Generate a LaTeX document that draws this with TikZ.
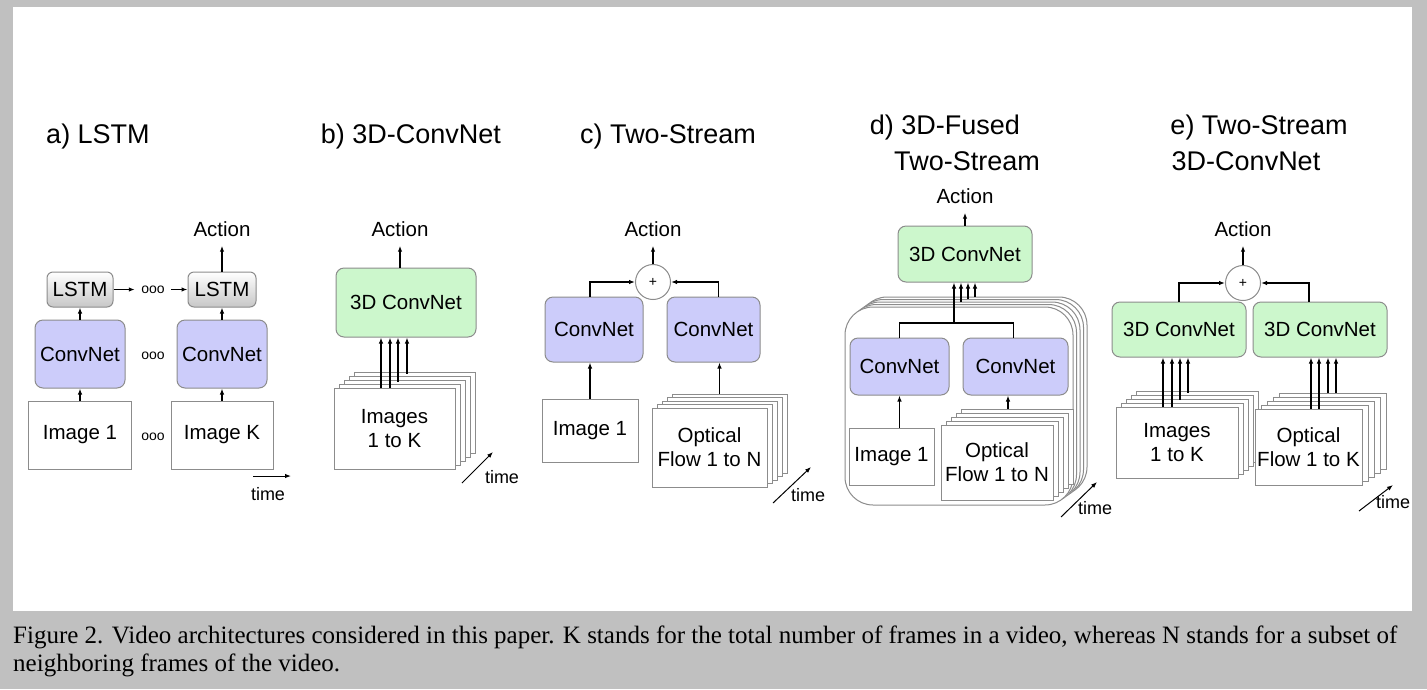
\documentclass[tikz,border=0pt]{standalone}
\usepackage{fontspec}
\setmainfont{Liberation Serif}
\newfontfamily\helv{Liberation Sans}
\usetikzlibrary{arrows.meta}

\definecolor{fondo}{RGB}{192,192,192}
\definecolor{azulcn}{RGB}{204,204,250}
\definecolor{verdecn}{RGB}{204,247,204}
\definecolor{borde}{RGB}{140,140,140}

\tikzset{
  caja/.style={draw=borde, line width=1pt, fill=white, inner sep=0pt, align=center,
    font=\helv\fontsize{20.5}{24}\selectfont},
  cnet/.style={caja, fill=azulcn, rounded corners=8pt},
  cnetres/.style={caja, fill=verdecn, rounded corners=8pt},
  lstm/.style={caja, top color=white, bottom color=black!22, rounded corners=6pt},
  suma/.style={circle, draw=borde, line width=1pt, fill=white, minimum size=35pt,
    inner sep=0pt, font=\helv\fontsize{14}{14}\selectfont},
  accion/.style={inner xsep=0pt, inner ysep=9pt, font=\helv\fontsize{20.5}{24}\selectfont},
  titulo/.style={inner sep=0pt, font=\helv\fontsize{27}{32}\selectfont},
  puntos/.style={inner sep=0pt, minimum width=36pt, font=\helv\fontsize{14}{14}\selectfont},
  tiempo/.style={inner sep=0pt, font=\helv\fontsize{18}{18}\selectfont},
  flecha/.style={line width=1.3pt, -{Latex[length=6pt,width=4.5pt]}},
  linea/.style={line width=1.3pt},
  hoja/.style={draw=borde, line width=1pt, fill=white},
}

\begin{document}
\begin{tikzpicture}[x=1pt, y=-1pt]
  % Fondo y panel blanco
  \fill[fondo] (0,0) rectangle (1427,689);
  \fill[white] (13,7) rectangle (1412,611);

  % Titulos
  \node[titulo] (titA) at (98,137) {a) LSTM};
  \node[titulo] (titB) at (411,137) {b) 3D-ConvNet};
  \node[titulo] (titC) at (668,137) {c) Two-Stream};
  \node[titulo] (titDa) at (945,128) {d) 3D-Fused};
  \node[titulo] (titDb) at (967,161) {Two-Stream};
  \node[titulo] (titEa) at (1259,128) {e) Two-Stream};
  \node[titulo] (titEb) at (1246,161) {3D-ConvNet};

  % a) LSTM
  \node[lstm, minimum width=66pt, minimum height=35pt] (lstmA1) at (80,289.5) {LSTM};
  \node[lstm, minimum width=68pt, minimum height=35pt] (lstmA2) at (222,289.5) {LSTM};
  \node[cnet, minimum width=90pt, minimum height=68pt] (cnA1) at (80,354) {ConvNet};
  \node[cnet, minimum width=90pt, minimum height=68pt] (cnA2) at (222,354) {ConvNet};
  \node[caja, minimum width=103pt, minimum height=68pt] (imgA1) at (80,435) {Image 1};
  \node[caja, minimum width=102pt, minimum height=68pt] (imgAK) at (222,435) {Image K};
  \node[puntos] (ptsA1) at (153,289.5) {ooo};
  \node[puntos] (ptsA2) at (153,356) {ooo};
  \node[puntos] (ptsA3) at (153,437) {ooo};
  \node[accion] (actA) at (222,229) {Action};
  \draw[flecha] (imgA1) -- (cnA1);
  \draw[flecha] (imgAK) -- (cnA2);
  \draw[flecha] (cnA1) -- (lstmA1);
  \draw[flecha] (cnA2) -- (lstmA2);
  \draw[flecha] (lstmA1) -- (ptsA1);
  \draw[flecha] (ptsA1) -- (lstmA2);
  \draw[flecha] (lstmA2) -- (actA);
  % tiempo
  \coordinate (tA0) at (253,476);
  \coordinate (tA1) at (291,476);
  \draw[flecha, line width=1pt] (tA0) -- (tA1);
  \node[tiempo] (tmA) at (268,494) {time};

  % b) 3D-ConvNet
  \foreach \k in {4,3,2,1}
    \draw[hoja] (334+5*\k, 388-4*\k) rectangle +(121,81);
  \node[caja, minimum width=121pt, minimum height=81pt] (imgsB) at (394.5,428.5) {Images\\1 to K};
  \node[cnetres, minimum width=140pt, minimum height=69pt] (c3dB) at (406,302.5) {3D ConvNet};
  \node[accion] (actB) at (400,229) {Action};
  \foreach \dx/\dy in {-13.5/0, -4.5/0, 3.5/6, 12.5/14}
    \draw[flecha] ([xshift=\dx pt, yshift=\dy pt]imgsB.north) -- ([xshift=\dx pt]imgsB.north |- c3dB.south);
  \draw[flecha] (actB.south |- c3dB.north) -- (actB.south);
  \coordinate (tB0) at (462,483);
  \coordinate (tB1) at (493,452);
  \draw[flecha, line width=1pt] (tB0) -- (tB1);
  \node[tiempo] (tmB) at (502,477) {time};

  % c) Two-Stream
  \node[caja, minimum width=96pt, minimum height=63pt] (imgC1) at (590,430.5) {Image 1};
  \foreach \k in {4,3,2,1}
    \draw[hoja] (652+5*\k, 408-3.5*\k) rectangle +(115,79);
  \node[caja, minimum width=115pt, minimum height=79pt] (flowC) at (709.5,447.5) {Optical\\Flow 1 to N};
  \node[cnet, minimum width=98pt, minimum height=65pt] (cnC1) at (594,329.5) {ConvNet};
  \node[cnet, minimum width=93pt, minimum height=65pt] (cnC2) at (713.5,329.5) {ConvNet};
  \node[suma] (sumC) at (653,282) {+};
  \node[accion] (actC) at (653,229) {Action};
  \draw[flecha] (imgC1.north) -- (imgC1.north |- cnC1.south);
  \draw[flecha] ([xshift=10pt, yshift=14pt]flowC.north) -- ([xshift=10pt]flowC.north |- cnC2.south);
  \draw[flecha] ([xshift=-4pt]cnC1.north) |- (sumC.west);
  \draw[flecha] ([xshift=5pt]cnC2.north) |- (sumC.east);
  \draw[flecha] (sumC) -- (actC);
  \coordinate (tC0) at (773,503);
  \coordinate (tC1) at (811,467);
  \draw[flecha, line width=1pt] (tC0) -- (tC1);
  \node[tiempo] (tmC) at (808,495) {time};

  % d) 3D-Fused Two-Stream
  \foreach \k in {4,3,2,1}
    \draw[hoja, rounded corners=28pt] (845+3.5*\k, 307-2.5*\k) rectangle +(228,198);
  \draw[hoja, rounded corners=28pt] (845,307) rectangle (1073,505);
  \node[caja, minimum width=85pt, minimum height=57pt] (imgD1) at (891.5,456.5) {Image 1};
  \foreach \k in {4,3,2,1}
    \draw[hoja] (941+5*\k, 425-4*\k) rectangle +(112,75);
  \node[caja, minimum width=112pt, minimum height=75pt] (flowD) at (997,462.5) {Optical\\Flow 1 to N};
  \node[cnet, minimum width=99pt, minimum height=57pt] (cnD1) at (899.5,366.5) {ConvNet};
  \node[cnet, minimum width=105pt, minimum height=57pt] (cnD2) at (1015.5,366.5) {ConvNet};
  \node[cnetres, minimum width=134pt, minimum height=56pt] (c3dD) at (965,254) {3D ConvNet};
  \node[accion] (actD) at (965,196) {Action};
  \draw[flecha] (cnD1.south |- imgD1.north) -- (cnD1.south);
  \draw[flecha] ([xshift=11pt, yshift=16pt]flowD.north) -- ([xshift=11pt]flowD.north |- cnD2.south);
  \coordinate (uneD) at (954,323);
  \draw[linea] (cnD1.north) |- (uneD) -| ([xshift=-2pt]cnD2.north);
  \draw[flecha] (uneD) -- (uneD |- c3dD.south);
  \foreach \x/\y in {961/302, 968/299, 975/297}
    \draw[flecha] (\x,\y) -- (\x,\y |- c3dD.south);
  \draw[flecha] (c3dD) -- (actD);
  \coordinate (tD0) at (1061,517);
  \coordinate (tD1) at (1097,482);
  \draw[flecha, line width=1pt] (tD0) -- (tD1);
  \node[tiempo] (tmD) at (1095,508) {time};

  % e) Two-Stream 3D-ConvNet
  \foreach \k in {4,3,2,1}
    \draw[hoja] (1116+5*\k, 407-4*\k) rectangle +(122,71);
  \node[caja, minimum width=122pt, minimum height=71pt] (imgsE) at (1177,442.5) {Images\\1 to K};
  \foreach \k in {4,3,2,1}
    \draw[hoja] (1255+6*\k, 409-4*\k) rectangle +(107,76);
  \node[caja, minimum width=107pt, minimum height=76pt] (flowE) at (1308.5,447) {Optical\\Flow 1 to K};
  \node[cnetres, minimum width=134pt, minimum height=55pt] (c3dE1) at (1179,329.5) {3D ConvNet};
  \node[cnetres, minimum width=134pt, minimum height=55pt] (c3dE2) at (1320,329.5) {3D ConvNet};
  \node[suma] (sumE) at (1243,283) {+};
  \node[accion] (actE) at (1243,229) {Action};
  \foreach \dx/\dy in {-14/0, -5/0, 3/7, 11/14}
    \draw[flecha] ([xshift=\dx pt, yshift=\dy pt]imgsE.north) -- ([xshift=\dx pt]imgsE.north |- c3dE1.south);
  \foreach \dx/\dy in {2.5/0, 10.5/0, 19.5/16, 27.5/16}
    \draw[flecha] ([xshift=\dx pt, yshift=\dy pt]flowE.north) -- ([xshift=\dx pt]flowE.north |- c3dE2.south);
  \draw[flecha] (c3dE1.north) |- (sumE.west);
  \draw[flecha] ([xshift=-11pt]c3dE2.north) |- (sumE.east);
  \draw[flecha] (sumE) -- (actE);
  \coordinate (tE0) at (1359,511);
  \coordinate (tE1) at (1393,485);
  \draw[flecha, line width=1pt] (tE0) -- (tE1);
  \node[tiempo] (tmE) at (1393,502) {time};

  % Leyenda
  \node[anchor=base west, inner sep=0pt, font=\fontsize{25}{28}\selectfont] (ley1) at (13,643)
    {Figure 2. Video architectures considered in this paper. K stands for the total number of frames in a video, whereas N stands for a subset of};
  \node[anchor=base west, inner sep=0pt, font=\fontsize{25}{28}\selectfont] (ley2) at (13,671)
    {neighboring frames of the video.};
\end{tikzpicture}
\end{document}
